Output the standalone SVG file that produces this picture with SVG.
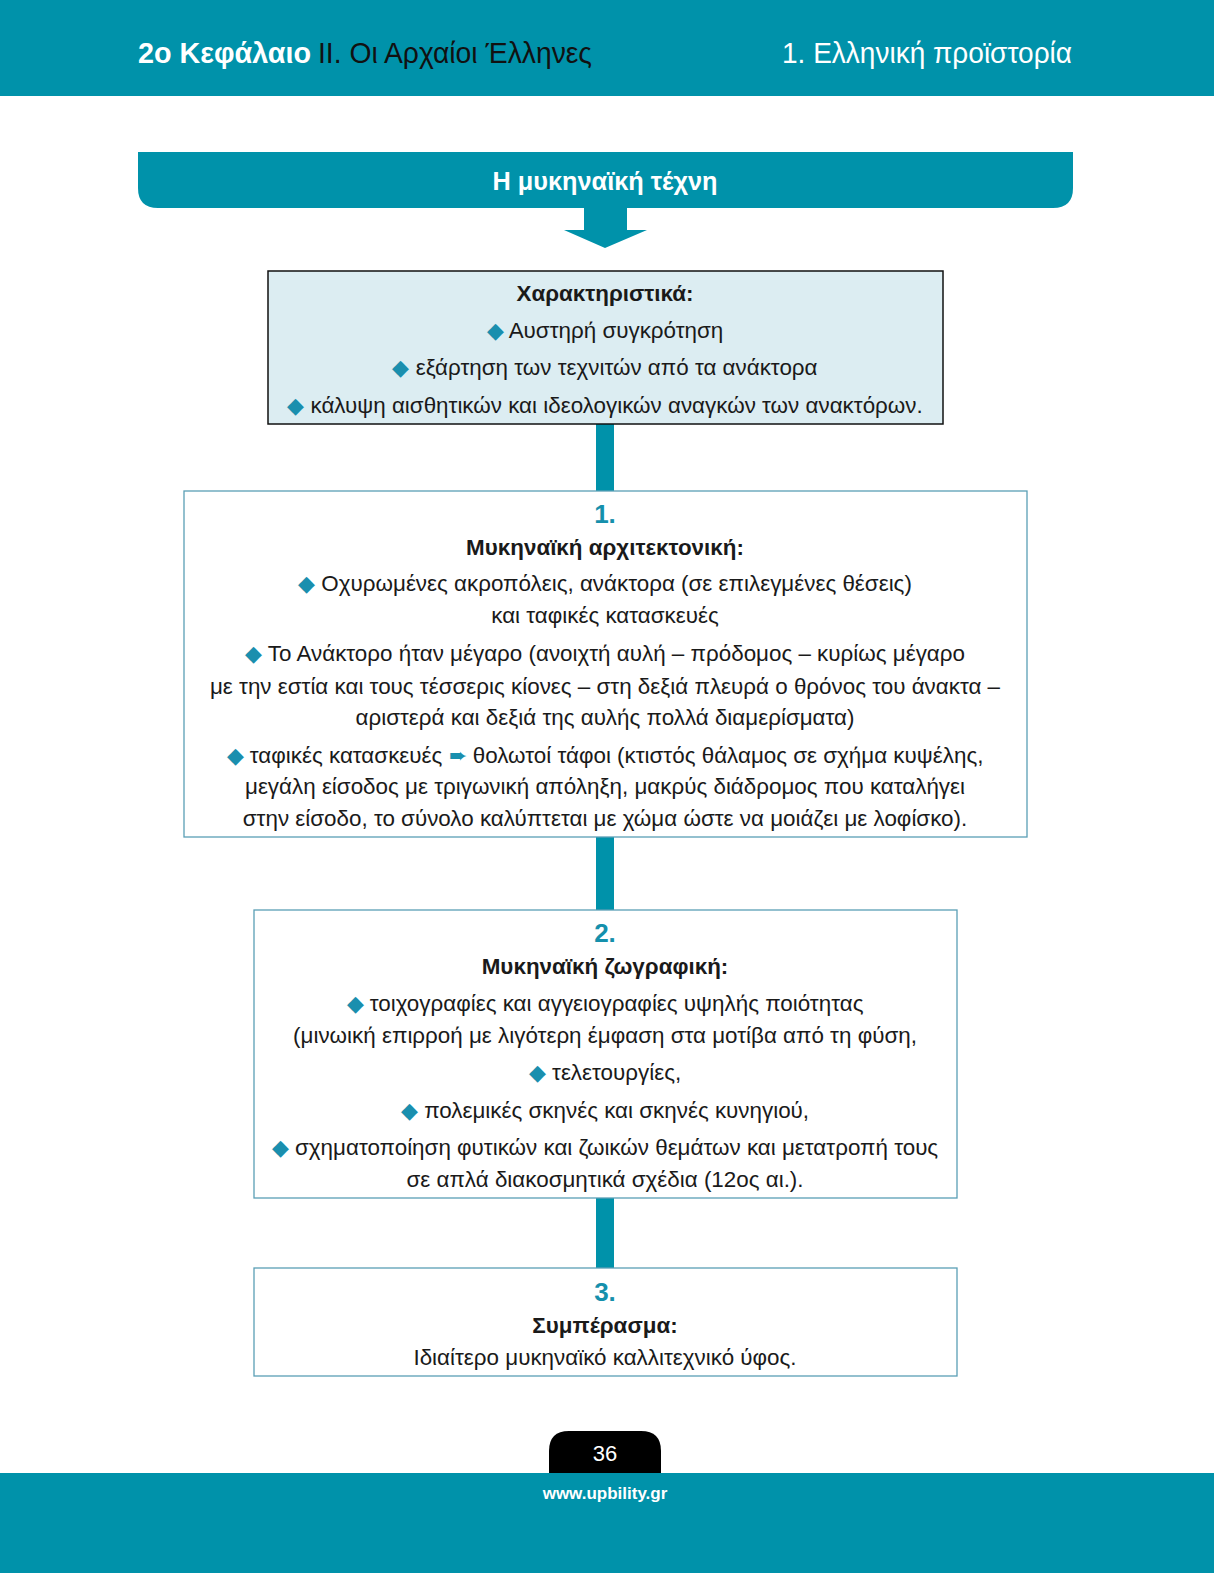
<svg xmlns="http://www.w3.org/2000/svg" width="1214" height="1573" viewBox="0 0 1214 1573">
<style>
.teal{fill:#0092AA}
.t{font-family:"Liberation Sans","Noto Sans",sans-serif;font-size:22.4px;fill:#1a1a1a;text-anchor:middle}
.b{font-weight:bold}
.num{font-family:"Liberation Sans",sans-serif;font-weight:bold;font-size:26px;fill:#1590AC;text-anchor:middle}
.d{fill:#1a8fae}
.box{fill:#fff;stroke:#5a9fb5;stroke-width:1.3}
.hdr{font-family:"Liberation Sans",sans-serif;font-size:30px}
</style>
<rect width="1214" height="1573" fill="#fff"/>
<g id="header">
<rect x="0" y="0" width="1214" height="96" class="teal"/>
<text x="138" y="63" class="hdr" font-weight="bold" fill="#fff" textLength="173" lengthAdjust="spacingAndGlyphs">2ο Κεφάλαιο</text>
<text x="318" y="63" class="hdr" fill="#111" textLength="274" lengthAdjust="spacingAndGlyphs">II. Οι Αρχαίοι Έλληνες</text>
<text x="782" y="63" class="hdr" fill="#fff" textLength="290" lengthAdjust="spacingAndGlyphs">1. Ελληνική προϊστορία</text>
</g>
<g id="title">
<path d="M138 152 H1073 V188 Q1073 208 1053 208 H158 Q138 208 138 188 Z" class="teal"/>
<text x="605" y="190" font-family="Liberation Sans,sans-serif" font-size="25" font-weight="bold" fill="#fff" text-anchor="middle" textLength="225" lengthAdjust="spacingAndGlyphs">Η μυκηναϊκή τέχνη</text>
</g>
<g id="connectors">
<path d="M584 208 H627 V230 H647 L605 248 L564 230 H584 Z" class="teal"/>
<rect x="596" y="424" width="18" height="67" class="teal"/>
<rect x="596" y="837" width="18" height="73" class="teal"/>
<rect x="596" y="1198" width="18" height="70" class="teal"/>
</g>
<g id="box0">
<rect x="268" y="271" width="675" height="153" fill="#DCEDF2" stroke="#111" stroke-width="1.5"/>
<text x="605" y="301" class="t b">Χαρακτηριστικά:</text>
<text x="605" y="338" class="t"><tspan class="d">◆</tspan> Αυστηρή συγκρότηση</text>
<text x="605" y="375" class="t"><tspan class="d">◆</tspan> εξάρτηση των τεχνιτών από τα ανάκτορα</text>
<text x="605" y="413" class="t"><tspan class="d">◆</tspan> κάλυψη αισθητικών και ιδεολογικών αναγκών των ανακτόρων.</text>
</g>
<g id="box1">
<rect x="184" y="491" width="843" height="346" class="box"/>
<text x="605" y="523" class="num">1.</text>
<text x="605" y="555" class="t b">Μυκηναϊκή αρχιτεκτονική:</text>
<text x="605" y="591" class="t"><tspan class="d">◆</tspan> Οχυρωμένες ακροπόλεις, ανάκτορα (σε επιλεγμένες θέσεις)</text>
<text x="605" y="623" class="t">και ταφικές κατασκευές</text>
<text x="605" y="661" class="t"><tspan class="d">◆</tspan> Το Ανάκτορο ήταν μέγαρο (ανοιχτή αυλή – πρόδομος – κυρίως μέγαρο</text>
<text x="605" y="694" class="t">με την εστία και τους τέσσερις κίονες – στη δεξιά πλευρά ο θρόνος του άνακτα –</text>
<text x="605" y="725" class="t">αριστερά και δεξιά της αυλής πολλά διαμερίσματα)</text>
<text x="605" y="763" class="t"><tspan class="d">◆</tspan> ταφικές κατασκευές <tspan class="d">➨</tspan> θολωτοί τάφοι (κτιστός θάλαμος σε σχήμα κυψέλης,</text>
<text x="605" y="794" class="t">μεγάλη είσοδος με τριγωνική απόληξη, μακρύς διάδρομος που καταλήγει</text>
<text x="605" y="826" class="t">στην είσοδο, το σύνολο καλύπτεται με χώμα ώστε να μοιάζει με λοφίσκο).</text>
</g>
<g id="box2">
<rect x="254" y="910" width="703" height="288" class="box"/>
<text x="605" y="942" class="num">2.</text>
<text x="605" y="974" class="t b">Μυκηναϊκή ζωγραφική:</text>
<text x="605" y="1011" class="t"><tspan class="d">◆</tspan> τοιχογραφίες και αγγειογραφίες υψηλής ποιότητας</text>
<text x="605" y="1043" class="t">(μινωική επιρροή με λιγότερη έμφαση στα μοτίβα από τη φύση,</text>
<text x="605" y="1080" class="t"><tspan class="d">◆</tspan> τελετουργίες,</text>
<text x="605" y="1118" class="t"><tspan class="d">◆</tspan> πολεμικές σκηνές και σκηνές κυνηγιού,</text>
<text x="605" y="1155" class="t"><tspan class="d">◆</tspan> σχηματοποίηση φυτικών και ζωικών θεμάτων και μετατροπή τους</text>
<text x="605" y="1187" class="t">σε απλά διακοσμητικά σχέδια (12ος αι.).</text>
</g>
<g id="box3">
<rect x="254" y="1268" width="703" height="108" class="box"/>
<text x="605" y="1301" class="num">3.</text>
<text x="605" y="1333" class="t b">Συμπέρασμα:</text>
<text x="605" y="1365" class="t">Ιδιαίτερο μυκηναϊκό καλλιτεχνικό ύφος.</text>
</g>
<g id="footer">
<path d="M549 1473 V1451 Q549 1431 569 1431 H641 Q661 1431 661 1451 V1473 Z" fill="#000"/>
<text x="605" y="1461" font-family="Liberation Sans,sans-serif" font-size="22" fill="#fff" text-anchor="middle">36</text>
<rect x="0" y="1473" width="1214" height="100" class="teal"/>
<text x="605" y="1499" font-family="Liberation Sans,sans-serif" font-size="17" font-weight="bold" fill="#fff" text-anchor="middle">www.upbility.gr</text>
</g>
</svg>
